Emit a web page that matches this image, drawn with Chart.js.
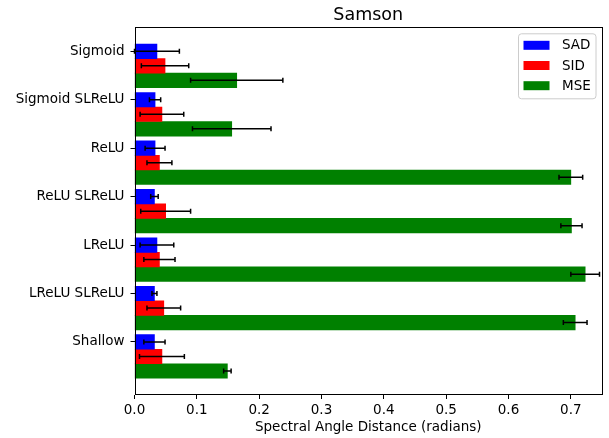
<!DOCTYPE html>
<html>
<head>
<meta charset="utf-8">
<script src="https://cdn.jsdelivr.net/npm/chart.js@4.4.0/dist/chart.umd.min.js"></script>
<style>
  html, body { margin: 0; padding: 0; background: #fff; }
  #wrap { width: 609px; height: 438px; }
</style>
</head>
<body>
<div id="wrap"><canvas id="chart" width="609" height="438"></canvas></div>
<script>
// Data
const methods = ['Sigmoid', 'Sigmoid SLReLU', 'ReLU', 'ReLU SLReLU', 'LReLU', 'LReLU SLReLU', 'Shallow'];
const seriesNames = ['SAD', 'SID', 'MSE'];
const sadMean = [0.036, 0.033, 0.033, 0.032, 0.036, 0.032, 0.032];
const sadErr  = [0.036, 0.009, 0.016, 0.006, 0.027, 0.004, 0.017];
const sidMean = [0.049, 0.044, 0.040, 0.050, 0.040, 0.047, 0.044];
const sidErr  = [0.038, 0.035, 0.020, 0.040, 0.025, 0.027, 0.036];
const mseMean = [0.164, 0.156, 0.700, 0.701, 0.723, 0.707, 0.149];
const mseErr  = [0.074, 0.063, 0.019, 0.017, 0.023, 0.019, 0.006];
const xTickValues = [0, 0.1, 0.2, 0.3, 0.4, 0.5, 0.6, 0.7];

const colors = ['#0000ff', '#ff0000', '#008000'];
const barStep = 0.3; // each series shifted down by one bar height (matplotlib style)

Chart.defaults.font.family = '"DejaVu Sans", sans-serif';
Chart.defaults.color = '#000';

function makeSet(name, means, errs, k) {
  return {
    label: name,
    data: means.map((v, i) => ({ x: v, y: i + k * barStep })),
    errors: errs,
    backgroundColor: colors[k],
    borderWidth: 0,
    categoryPercentage: 1,
    barPercentage: 1,
    grouped: false,
  };
}

// error bars with caps
const errorBars = {
  id: 'errorBars',
  afterDatasetsDraw(chart) {
    const { ctx } = chart;
    const xs = chart.scales.x;
    const cap = 2.5;
    ctx.save();
    ctx.strokeStyle = '#000';
    ctx.lineWidth = 1.5;
    chart.data.datasets.forEach((ds, di) => {
      const meta = chart.getDatasetMeta(di);
      meta.data.forEach((bar, i) => {
        const v = ds.data[i].x, e = ds.errors[i];
        const x0 = xs.getPixelForValue(v - e);
        const x1 = xs.getPixelForValue(v + e);
        const y = bar.y;
        ctx.beginPath();
        ctx.moveTo(x0, y); ctx.lineTo(x1, y);
        ctx.moveTo(x0, y - cap); ctx.lineTo(x0, y + cap);
        ctx.moveTo(x1, y - cap); ctx.lineTo(x1, y + cap);
        ctx.stroke();
      });
    });
    ctx.restore();
  }
};

// axes frame + legend box in the upper right
const frameAndLegend = {
  id: 'frameAndLegend',
  afterDraw(chart) {
    const { ctx, chartArea: a } = chart;
    ctx.save();
    ctx.strokeStyle = '#000';
    ctx.lineWidth = 1;
    ctx.strokeRect(Math.round(a.left) + 0.5, Math.round(a.top) + 0.5,
      Math.round(a.right - a.left) - 1, Math.round(a.bottom - a.top) - 1);

    const bx = a.right - 83.5, by = a.top + 6.5, bw = 77.5, bh = 65;
    ctx.beginPath();
    ctx.roundRect(bx, by, bw, bh, 3);
    ctx.fillStyle = 'rgba(255,255,255,0.8)';
    ctx.fill();
    ctx.strokeStyle = '#cccccc';
    ctx.stroke();

    ctx.font = '13.5px "DejaVu Sans"';
    ctx.textBaseline = 'middle';
    chart.data.datasets.forEach((ds, k) => {
      const cy = by + 11.5 + k * 20.2;
      ctx.fillStyle = ds.backgroundColor;
      ctx.fillRect(bx + 5, cy - 4.5, 26, 9);
      ctx.fillStyle = '#000';
      ctx.fillText(ds.label, bx + 43.5, cy + 0.5);
    });
    ctx.restore();
  }
};

new Chart(document.getElementById('chart'), {
  type: 'bar',
  data: {
    datasets: [
      makeSet(seriesNames[0], sadMean, sadErr, 0),
      makeSet(seriesNames[1], sidMean, sidErr, 1),
      makeSet(seriesNames[2], mseMean, mseErr, 2),
    ]
  },
  options: {
    indexAxis: 'y',
    responsive: false,
    animation: false,
    layout: { padding: { left: 0, right: 7, top: 0, bottom: 0 } },
    scales: {
      x: {
        type: 'linear',
        min: 0,
        max: 0.75,
        afterBuildTicks: axis => { axis.ticks = xTickValues.map(v => ({ value: v })); },
        afterFit: axis => { axis.height = 43; },
        ticks: {
          font: { size: 13.5 },
          padding: 3,
          callback: v => v.toFixed(1),
        },
        grid: { drawOnChartArea: false, tickLength: 4, color: '#000' },
        border: { display: false },
        title: {
          display: true,
          text: 'Spectral Angle Distance (radians)',
          font: { size: 13.5 },
          padding: { top: 0, bottom: 2 },
        },
      },
      y: {
        type: 'linear',
        reverse: true,
        offset: false,
        min: -0.495,
        max: 7.095,
        afterBuildTicks: axis => { axis.ticks = methods.map((m, i) => ({ value: i })); },
        afterFit: axis => { axis.width = 134.5; },
        ticks: {
          font: { size: 13.5 },
          padding: 6,
          callback: v => methods[v],
        },
        grid: { drawOnChartArea: false, offset: false, tickLength: 4, color: '#000' },
        border: { display: false },
      }
    },
    plugins: {
      legend: { display: false },
      tooltip: { enabled: false },
      title: {
        display: true,
        fullSize: false,
        text: 'Samson',
        font: { size: 17.5, weight: 'normal' },
        padding: { top: 5, bottom: 1.3 },
      },
    }
  },
  plugins: [errorBars, frameAndLegend]
});
</script>
</body>
</html>
